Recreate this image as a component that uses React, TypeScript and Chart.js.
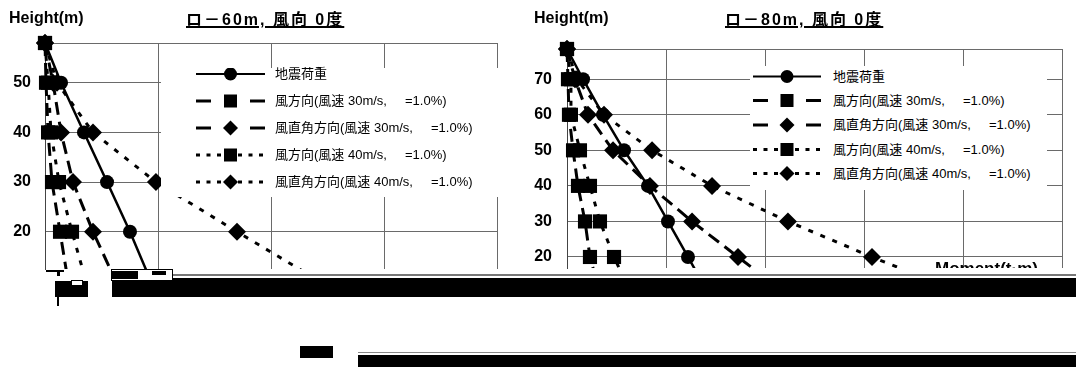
import React, { useEffect, useRef } from "react";
import { Chart, registerables } from "chart.js";

Chart.register(...registerables);

// ---------- data ----------
const SERIES_LABELS = [
  "地震荷重",
  "風方向(風速 30m/s,     =1.0%)",
  "風直角方向(風速 30m/s,     =1.0%)",
  "風方向(風速 40m/s,     =1.0%)",
  "風直角方向(風速 40m/s,     =1.0%)",
];

// ロ－60m
const HEIGHTS_60 = [58, 50, 40, 30, 20, 10];
const SEISMIC_60 = [0, 142, 345, 549, 752, 938];
const WIND30_DIR_60 = [0, 9, 27, 62, 133, 204];
const WIND30_PERP_60 = [0, 71, 142, 248, 425, 628];
const WIND40_DIR_60 = [0, 27, 53, 124, 239, 363];
const WIND40_PERP_60 = [0, 106, 425, 982, 1699, 2434];
const Y_TICKS_60 = [20, 30, 40, 50];

// ロ－80m
const HEIGHTS_80 = [78.5, 70, 60, 50, 40, 30, 20, 10];
const SEISMIC_80 = [0, 162, 364, 576, 818, 1020, 1222, 1424];
const WIND30_DIR_80 = [0, 10, 20, 61, 111, 182, 232, 330];
const WIND30_PERP_80 = [0, 81, 212, 465, 838, 1263, 1727, 2200];
const WIND40_DIR_80 = [0, 40, 40, 131, 232, 333, 475, 640];
const WIND40_PERP_80 = [0, 100, 374, 859, 1465, 2232, 3081, 3980];
const Y_TICKS_80 = [20, 30, 40, 50, 60, 70];

const TITLE_60 = "ロ－60m, 風向 0度";
const TITLE_80 = "ロ－80m, 風向 0度";
const Y_TITLE = "Height(m)";
const X_TITLE = "Moment(t·m)";

// ---------- styles ----------
const FONT = "'Liberation Sans', Arial, 'Noto Sans CJK JP', sans-serif";
const SERIES_STYLE = [
  { dash: [] as number[], width: 2.5, point: "circle", radius: 7 },
  { dash: [13, 7], width: 3, point: "rect", radius: 10 },
  { dash: [13, 7], width: 3, point: "rectRot", radius: 9 },
  { dash: [5, 8], width: 3, point: "rect", radius: 10 },
  { dash: [5, 8], width: 3, point: "rectRot", radius: 9 },
];

function buildConfig(
  heights: number[],
  series: number[][],
  yTicks: number[],
  yMin: number,
  yMax: number,
  xMax: number,
  layout: { top: number; right: number; yWidth: number; xHeight: number; labelPad: number }
): any {
  return {
    type: "line",
    data: {
      datasets: series.map((vals, i) => ({
        label: SERIES_LABELS[i],
        data: heights.map((h, j) => ({ x: vals[j], y: h })),
        borderColor: "#000",
        backgroundColor: "#000",
        borderWidth: SERIES_STYLE[i].width,
        borderDash: SERIES_STYLE[i].dash,
        pointStyle: SERIES_STYLE[i].point,
        pointRadius: SERIES_STYLE[i].radius,
        pointBackgroundColor: "#000",
        pointBorderColor: "#000",
        pointBorderWidth: 0,
        tension: 0,
        fill: false,
        clip: { left: 14, top: 14, right: 0, bottom: 0 },
      })),
    },
    options: {
      animation: false,
      responsive: false,
      devicePixelRatio: 1,
      events: [],
      layout: { padding: { left: 0, top: layout.top, right: layout.right, bottom: 0 } },
      plugins: { legend: { display: false }, tooltip: { enabled: false }, title: { display: false } },
      scales: {
        x: {
          type: "linear",
          min: 0,
          max: xMax,
          ticks: { display: false, stepSize: 1000 },
          grid: { color: "#6a6a6a", lineWidth: 1, drawTicks: false },
          border: { display: false },
          afterFit: (s: any) => {
            s.height = layout.xHeight;
          },
        },
        y: {
          type: "linear",
          min: yMin,
          max: yMax,
          afterBuildTicks: (s: any) => {
            s.ticks = [...yTicks, yMax].map((v) => ({ value: v }));
          },
          ticks: {
            callback: (v: any) => (yTicks.includes(v) ? String(v) : ""),
            padding: layout.labelPad,
            color: "#000",
            font: { family: FONT, size: 16, weight: "bold" },
          },
          grid: { color: "#6a6a6a", lineWidth: 1, drawTicks: false },
          border: { color: "#444", width: 1 },
          afterFit: (s: any) => {
            s.width = layout.yWidth;
          },
        },
      },
    },
  };
}

function ChartCanvas({ config, left, width, height }: any) {
  const ref = useRef<HTMLCanvasElement>(null);
  useEffect(() => {
    const chart = new Chart(ref.current as HTMLCanvasElement, config);
    return () => chart.destroy();
  }, []);
  return (
    <canvas
      ref={ref}
      width={width}
      height={height}
      style={{ position: "absolute", left, top: 0, width, height }}
    />
  );
}

function LegendSample({ kind, x0, x1, y }: { kind: number; x0: number; x1: number; y: number }) {
  const cx = (x0 + x1) / 2;
  const parts: any[] = [];
  if (kind === 0) {
    parts.push(<line key="l" x1={x0} y1={y} x2={x1} y2={y} stroke="#000" strokeWidth={2} />);
  } else if (kind === 1 || kind === 2) {
    parts.push(<line key="a" x1={x0} y1={y} x2={x0 + 15} y2={y} stroke="#000" strokeWidth={3} />);
    parts.push(<line key="b" x1={x1 - 15} y1={y} x2={x1} y2={y} stroke="#000" strokeWidth={3} />);
  } else {
    parts.push(
      <line key="d" x1={x0} y1={y} x2={x1} y2={y} stroke="#000" strokeWidth={3} strokeDasharray="4 6.5" />
    );
  }
  if (kind === 0) parts.push(<circle key="m" cx={cx} cy={y} r={6.5} fill="#000" />);
  else if (kind === 1 || kind === 3)
    parts.push(<rect key="m" x={cx - 6.5} y={y - 6.5} width={13} height={13} fill="#000" />);
  else
    parts.push(
      <polygon
        key="m"
        points={`${cx},${y - 7.5} ${cx + 7.5},${y} ${cx},${y + 7.5} ${cx - 7.5},${y}`}
        fill="#000"
      />
    );
  return <g>{parts}</g>;
}

function Legend({ box, x0, x1, textX, rows }: any) {
  return (
    <div
      style={{
        position: "absolute",
        left: box.x,
        top: box.y,
        width: box.w,
        height: box.h,
        background: "#fff",
      }}
    >
      <svg width={box.w} height={box.h} style={{ position: "absolute", left: 0, top: 0 }}>
        {rows.map((ry: number, i: number) => (
          <LegendSample key={i} kind={i} x0={x0 - box.x} x1={x1 - box.x} y={ry - box.y} />
        ))}
      </svg>
      {rows.map((ry: number, i: number) => (
        <span
          key={i}
          style={{
            position: "absolute",
            left: textX - box.x,
            top: ry - box.y - 8,
            fontFamily: FONT,
            fontSize: 13,
            lineHeight: "16px",
            whiteSpace: "pre",
            color: "#000",
          }}
        >
          {SERIES_LABELS[i]}
        </span>
      ))}
    </div>
  );
}

const DECOR = [
  { x: 112, y: 278, w: 964, h: 19, bg: "#000" },
  { x: 173, y: 274, w: 903, h: 2, bg: "#777" },
  { x: 111, y: 269, w: 62, h: 12, bg: "#fff", border: "1px solid #000" },
  { x: 112, y: 271, w: 26, h: 8, bg: "#000" },
  { x: 152, y: 271, w: 14, h: 4, bg: "#000" },
  { x: 55, y: 281, w: 33, h: 16, bg: "#000" },
  { x: 71, y: 280, w: 12, h: 6, bg: "#fff", border: "1px solid #000" },
  { x: 57, y: 297, w: 2, h: 9, bg: "#000" },
  { x: 46, y: 270, w: 18, h: 2, bg: "#000" },
  { x: 57, y: 270, w: 3, h: 6, bg: "#000" },
  { x: 300, y: 346, w: 33, h: 12, bg: "#000" },
  { x: 358, y: 352, w: 718, h: 1, bg: "#888" },
  { x: 358, y: 355, w: 718, h: 12, bg: "#000" },
];

export default function App() {
  const cfg60 = buildConfig(
    HEIGHTS_60,
    [SEISMIC_60, WIND30_DIR_60, WIND30_PERP_60, WIND40_DIR_60, WIND40_PERP_60],
    Y_TICKS_60,
    12.5,
    58,
    4000,
    { top: 43, right: 23, yWidth: 45, xHeight: 98, labelPad: 14 }
  );
  const cfg80 = buildConfig(
    HEIGHTS_80,
    [SEISMIC_80, WIND30_DIR_80, WIND30_PERP_80, WIND40_DIR_80, WIND40_PERP_80],
    Y_TICKS_80,
    16.9,
    78.5,
    5000,
    { top: 49, right: 14, yWidth: 47, xHeight: 99, labelPad: 15 }
  );

  const textStyle: any = {
    position: "absolute",
    fontFamily: FONT,
    color: "#000",
    whiteSpace: "pre",
    lineHeight: "16px",
  };

  return (
    <div
      style={{
        position: "absolute",
        left: 0,
        top: 0,
        width: 1076,
        height: 367,
        background: "#fff",
        overflow: "hidden",
      }}
    >
      <ChartCanvas config={cfg60} left={0} width={520} height={367} />
      <ChartCanvas config={cfg80} left={520} width={556} height={367} />

      <Legend
        box={{ x: 161, y: 68, w: 338, h: 129 }}
        x0={196}
        x1={265}
        textX={275}
        rows={[74, 101, 128, 155, 182]}
      />
      <Legend
        box={{ x: 750, y: 66, w: 297, h: 124 }}
        x0={753}
        x1={821}
        textX={833}
        rows={[76.5, 100.5, 125, 149.5, 173.5]}
      />

      <div style={{ ...textStyle, left: 9, top: 10, fontSize: 16, fontWeight: "bold" }}>{Y_TITLE}</div>
      <div style={{ ...textStyle, left: 534, top: 10, fontSize: 16, fontWeight: "bold" }}>{Y_TITLE}</div>
      <div
        style={{
          ...textStyle,
          left: 186,
          top: 12,
          fontSize: 16,
          fontWeight: "bold",
          letterSpacing: 2,
          textDecoration: "underline",
          textDecorationThickness: "1.5px",
        }}
      >
        {TITLE_60}
      </div>
      <div
        style={{
          ...textStyle,
          left: 725,
          top: 12,
          fontSize: 16,
          fontWeight: "bold",
          letterSpacing: 2,
          textDecoration: "underline",
          textDecorationThickness: "1.5px",
        }}
      >
        {TITLE_80}
      </div>

      <div style={{ position: "absolute", left: 935, top: 262, width: 120, height: 6, overflow: "hidden" }}>
        <span style={{ ...textStyle, left: 0, top: -2, fontSize: 17, fontWeight: "bold", lineHeight: "17px" }}>
          {X_TITLE}
        </span>
      </div>

      {DECOR.map((d, i) => (
        <div
          key={i}
          style={{
            position: "absolute",
            left: d.x,
            top: d.y,
            width: d.w,
            height: d.h,
            background: d.bg,
            border: (d as any).border,
            boxSizing: "border-box",
          }}
        />
      ))}
    </div>
  );
}
